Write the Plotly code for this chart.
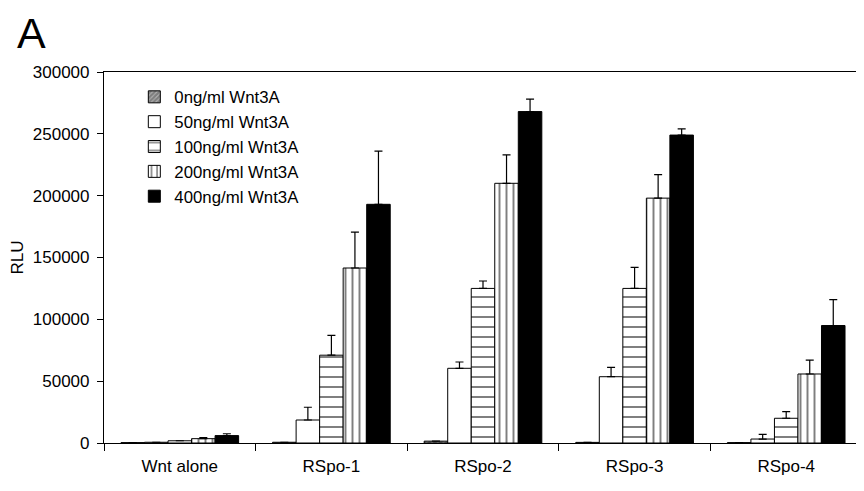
import plotly.graph_objects as go

categories = ["Wnt alone", "RSpo-1", "RSpo-2", "RSpo-3", "RSpo-4"]
series_names = ["0ng/ml Wnt3A", "50ng/ml Wnt3A", "100ng/ml Wnt3A", "200ng/ml Wnt3A", "400ng/ml Wnt3A"]

v0 = [300, 600, 1500, 500, 300]
v50 = [600, 18600, 60400, 53600, 3200]
v100 = [1800, 71000, 125000, 125000, 20000]
v200 = [3500, 141500, 210000, 198000, 55800]
v400 = [6000, 193000, 268000, 249000, 95000]

e0 = [0, 0, 0, 0, 0]
e50 = [0, 10300, 5100, 7600, 3800]
e100 = [0, 16000, 6000, 17000, 5300]
e200 = [800, 29000, 23000, 19000, 11200]
e400 = [1500, 43000, 10000, 5000, 21000]

values = [v0, v50, v100, v200, v400]
errors = [e0, e50, e100, e200, e400]

styles = [
    dict(color="white", pattern=dict(shape="/", fgcolor="black", bgcolor="white", size=4, solidity=0.85, fillmode="overlay")),
    dict(color="white"),
    dict(color="white", pattern=dict(shape="-", fgcolor="black", bgcolor="white", size=10, solidity=0.2, fillmode="overlay")),
    dict(color="white", pattern=dict(shape="|", fgcolor="black", bgcolor="white", size=7, solidity=0.28, fillmode="overlay")),
    dict(color="black"),
]

FONT = "Liberation Sans, Arial, sans-serif"

fig = go.Figure()
for name, vals, errs, st in zip(series_names, values, errors, styles):
    marker = dict(line=dict(color="black", width=1), **st)
    fig.add_trace(go.Bar(
        x=categories, y=vals, name=name, marker=marker,
        error_y=dict(type="data", symmetric=False, array=errs,
                     arrayminus=[0] * len(errs), color="black",
                     thickness=1.2, width=4, visible=True),
    ))

fig.update_layout(
    width=864, height=491,
    margin=dict(l=96, r=10, t=64, b=56, autoexpand=False),
    paper_bgcolor="white", plot_bgcolor="white",
    barmode="group", bargap=0.224, bargroupgap=0,
    font=dict(family=FONT, size=17, color="black"),
    showlegend=True,
    legend=dict(x=0.04, y=0.98, xanchor="left", yanchor="top",
                bgcolor="rgba(0,0,0,0)", font=dict(size=16.8, family=FONT),
                tracegroupgap=0),
    annotations=[
        dict(text="A", x=-0.096, y=1.105, xref="paper", yref="paper",
             xanchor="center", yanchor="middle", showarrow=False,
             font=dict(size=43, family=FONT)),
        dict(text="RLU", x=-0.1135, y=0.5, xref="paper", yref="paper",
             xanchor="center", yanchor="middle", textangle=-90, showarrow=False,
             font=dict(size=17, family=FONT)),
    ],
)

fig.update_xaxes(
    showline=True, linecolor="black", linewidth=1.2, mirror=True,
    ticks="outside", tickson="boundaries", ticklen=7, tickcolor="black",
    showgrid=False, tickfont=dict(size=17, family=FONT), automargin=False,
    ticklabelstandoff=7,
)
fig.update_yaxes(
    range=[0, 300000], dtick=50000, tickformat="d",
    showline=True, linecolor="black", linewidth=1.2, mirror=True,
    ticks="outside", ticklen=6, tickcolor="black", showgrid=False,
    zeroline=False, tickfont=dict(size=17, family=FONT), automargin=False,
    ticklabelstandoff=4,
)

fig.write_html("out.html")
